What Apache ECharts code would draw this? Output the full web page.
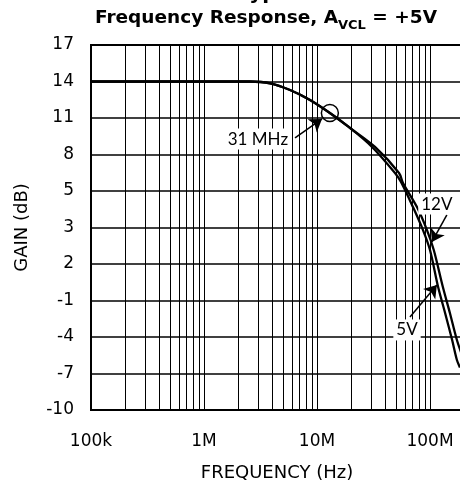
<!DOCTYPE html>
<html>
<head>
<meta charset="utf-8">
<script src="https://cdn.jsdelivr.net/npm/echarts@6/dist/echarts.min.js"></script>
<style>
html,body{margin:0;padding:0;background:#fff;}
#chart{width:460px;height:489px;}
</style>
</head>
<body>
<div id="chart"></div>
<script>
// ---- data ----
const xTickValues = [1e5, 1e6, 1e7, 1e8, 1e9];
const xTickLabels = ['100k', '1M', '10M', '100M', '1G'];
const yTickLabels = ['-10', '-7', '-4', '-1', '2', '3', '5', '8', '11', '14', '17']; // bottom to top

const freq5V  = [1e5, 1e6, 2.55e6, 3.84e6, 5.77e6, 8.67e6, 13e6, 19.6e6, 30.7e6, 49e6, 55.4e6, 70.7e6, 86.7e6, 100e6, 118e6, 136e6, 157e6, 173e6, 184e6];
const gain5V  = [14, 14, 14, 13.85, 13.3, 12.48, 11.41, 10.18, 8.62, 6.48, 5.74, 3.68, 1.79, 0.15, -2.89, -5.03, -7.25, -8.89, -9.5];
const freq12V = [1e5, 1e6, 2.55e6, 3.84e6, 5.77e6, 8.67e6, 13e6, 19.6e6, 32.6e6, 53.2e6, 57.7e6, 76.7e6, 94e6, 108e6, 130e6, 150e6, 173e6, 192e6];
const gain12V = [14, 14, 14, 13.85, 13.3, 12.48, 11.41, 10.18, 8.62, 6.48, 5.66, 3.68, 1.79, 0.15, -2.89, -5.03, -7.25, -8.48];

const markerPoint = [13e6, 11.41]; // circled -3dB point

const annoText   = ['31 MHz', '12V', '5V'];
const annoLabelF = [3.0e6, 115e6, 62.6e6];
const annoLabelG = [9.27, 3.93, -6.42];
const arrowFromF = [6.39e6, 141e6, 66.5e6];
const arrowFromG = [9.36, 3.03, -5.36];
const arrowToF   = [11.07e6, 104e6, 115e6];
const arrowToG   = [10.92, 0.81, -2.73];

// ---- helpers ----
const yMin = -13, yMax = 17, yStep = 3;
const minorX = [];
for (let d = 0; d < xTickValues.length - 1; d++) {
  for (let k = 2; k <= 9; k++) minorX.push(xTickValues[d] * k);
}
const zip = (a, b) => a.map((v, i) => [v, b[i]]);

const chart = echarts.init(document.getElementById('chart'));
const font = 'DejaVu Sans';

chart.setOption({
  animation: false,
  backgroundColor: '#fff',
  title: {
    left: 95, top: 5, padding: 0,
    text: '{m|Frequency Response, A}{s|VCL}{m| = +5V}',
    textStyle: {
      rich: {
        m: {fontFamily: font, fontWeight: 'bold', fontSize: 18.5, color: '#000', lineHeight: 27},
        s: {fontFamily: font, fontWeight: 'bold', fontSize: 13, color: '#000', lineHeight: 27, verticalAlign: 'bottom'}
      }
    }
  },
  graphic: [{
    type: 'text', left: 238, top: -16, silent: true,
    style: {text: 'Typical Performance Curves', fontFamily: font, fontWeight: 'bold', fontSize: 20, fill: '#000'}
  }],
  grid: {
    left: 91, top: 45, height: 365, width: 452,
    outerBoundsMode: 'none', containLabel: false,
    show: true, borderColor: '#000', borderWidth: 2, backgroundColor: 'transparent'
  },
  xAxis: {
    type: 'log', logBase: 10, min: 1e5, max: 1e9,
    name: 'FREQUENCY (Hz)', nameLocation: 'middle', nameGap: 54,
    nameTextStyle: {fontFamily: font, fontSize: 18, color: '#000', padding: [0, 80, 0, 0]},
    axisLine: {show: false},
    axisTick: {show: false},
    axisLabel: {
      fontFamily: font, fontSize: 17, color: '#000', margin: 23,
      formatter: v => { const i = xTickValues.findIndex(t => Math.abs(t - v) / t < 1e-6); return i >= 0 ? xTickLabels[i] : ''; }
    },
    splitLine: {show: true, lineStyle: {color: '#000', width: 1}}
  },
  yAxis: {
    type: 'value', min: yMin, max: yMax, interval: yStep,
    name: 'GAIN (dB)', nameLocation: 'middle', nameGap: 60, nameRotate: 90,
    nameTextStyle: {fontFamily: font, fontSize: 18, color: '#000'},
    axisLine: {show: false},
    axisTick: {show: false},
    axisLabel: {
      fontFamily: font, fontSize: 17, color: '#000', margin: 17,
      formatter: v => yTickLabels[Math.round((v - yMin) / yStep)]
    },
    splitLine: {show: true, lineStyle: {color: '#000', width: 1.5}}
  },
  series: [
    {
      type: 'line', data: [], silent: true,
      markLine: {
        silent: true, symbol: ['none', 'none'], label: {show: false},
        lineStyle: {color: '#000', width: 1, type: 'solid'},
        data: minorX.map(x => ({xAxis: x}))
      }
    },
    {
      name: '5V', type: 'line', data: zip(freq5V, gain5V), showSymbol: false, smooth: 0.3,
      lineStyle: {color: '#000', width: 2.3}, z: 5
    },
    {
      name: '12V', type: 'line', data: zip(freq12V, gain12V), showSymbol: false, smooth: 0.3,
      lineStyle: {color: '#000', width: 2.3}, z: 5
    },
    {
      type: 'scatter', data: [markerPoint], symbol: 'circle', symbolSize: 17, z: 6, silent: true,
      itemStyle: {color: 'rgba(0,0,0,0)', borderColor: '#000', borderWidth: 1.5, opacity: 1},
      markLine: {
        silent: true, symbol: ['none', 'arrow'], symbolSize: 12, label: {show: false},
        lineStyle: {color: '#000', width: 1.5, type: 'solid', opacity: 1},
        itemStyle: {color: '#000'},
        data: annoText.map((t, i) => [
          {coord: [arrowFromF[i], arrowFromG[i]]},
          {coord: [arrowToF[i], arrowToG[i]]}
        ])
      }
    },
    {
      type: 'scatter', symbolSize: 0, z: 7, silent: true,
      itemStyle: {opacity: 1},
      data: annoText.map((t, i) => ({name: t, value: [annoLabelF[i], annoLabelG[i]]})),
      label: {
        show: true, position: 'inside', formatter: p => p.name,
        fontFamily: 'Lato', fontSize: 17, color: '#000',
        backgroundColor: '#fff', padding: [2, 3]
      }
    }
  ]
});
</script>
</body>
</html>
